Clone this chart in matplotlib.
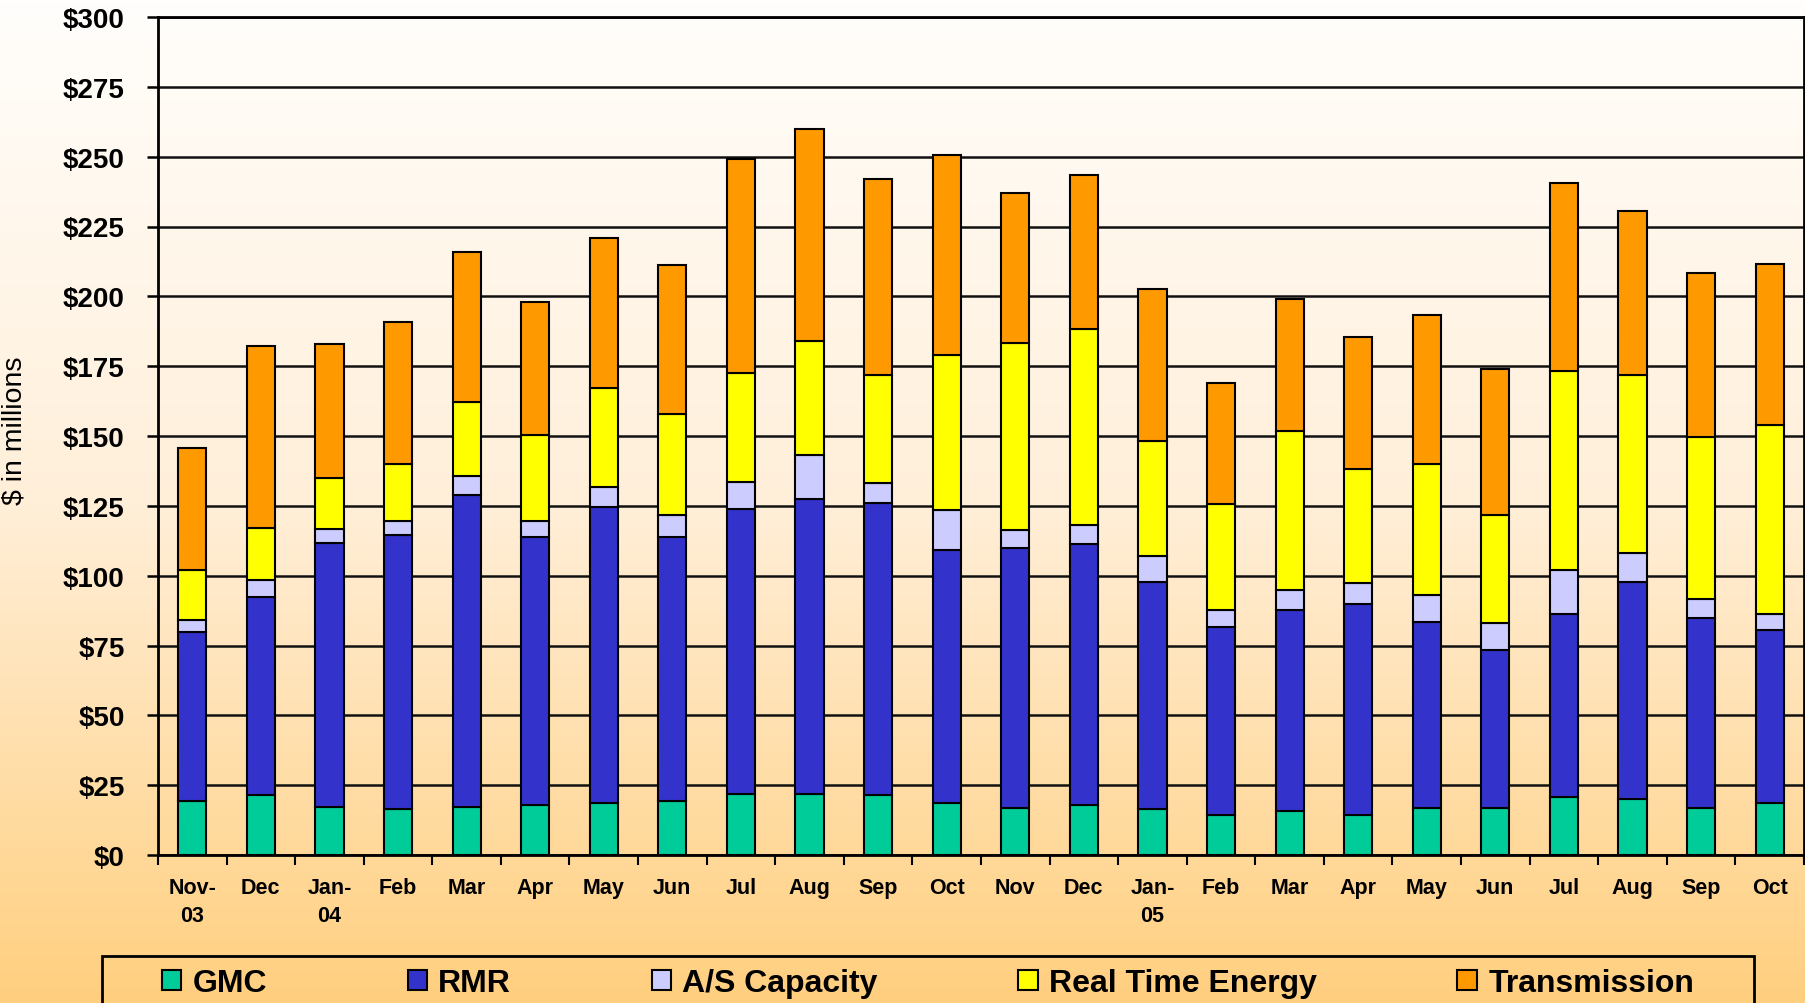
import numpy as np
import matplotlib.pyplot as plt
from matplotlib.patches import Patch, Rectangle
from matplotlib.colors import LinearSegmentedColormap

plt.rcParams['font.family'] = ['Liberation Sans', 'DejaVu Sans']

months = ["Nov-\n03", "Dec", "Jan-\n04", "Feb", "Mar", "Apr", "May", "Jun", "Jul", "Aug", "Sep", "Oct",
          "Nov", "Dec", "Jan-\n05", "Feb", "Mar", "Apr", "May", "Jun", "Jul", "Aug", "Sep", "Oct"]

# $ millions per month, by component
gmc = [19.2, 21.5, 17.2, 16.3, 17.2, 17.9, 18.6, 19.2, 22.0, 22.0, 21.5, 18.5,
       17.0, 17.9, 16.3, 14.3, 15.7, 14.3, 17.0, 17.0, 20.6, 20.0, 17.0, 18.5]
rmr = [60.7, 70.8, 94.5, 98.2, 111.7, 95.9, 105.9, 94.6, 102.0, 105.6, 104.6, 90.7,
       92.9, 93.4, 81.4, 67.2, 72.1, 75.7, 66.4, 56.4, 65.7, 77.7, 67.9, 62.1]
as_capacity = [4.2, 6.3, 5.0, 5.0, 6.7, 5.8, 7.3, 7.9, 9.4, 15.7, 7.2, 14.4,
               6.5, 6.7, 9.5, 6.3, 7.2, 7.4, 9.6, 9.6, 15.7, 10.3, 6.6, 5.7]
rt_energy = [17.9, 18.6, 18.1, 20.5, 26.5, 30.9, 35.3, 36.1, 39.2, 40.8, 38.7, 55.5,
             67.0, 70.3, 41.0, 38.0, 56.9, 40.9, 46.8, 38.6, 71.3, 64.0, 58.2, 67.7]
transmission = [43.6, 65.0, 48.1, 50.8, 53.7, 47.4, 53.7, 53.5, 76.6, 75.9, 70.1, 71.6,
                53.6, 55.3, 54.5, 43.3, 47.3, 47.3, 53.6, 52.5, 67.4, 58.6, 58.8, 57.4]

series = [("GMC", gmc, "#00CC99"),
          ("RMR", rmr, "#3333CC"),
          ("A/S Capacity", as_capacity, "#CCCCFF"),
          ("Real Time Energy", rt_energy, "#FFFF00"),
          ("Transmission", transmission, "#FF9900")]

fig = plt.figure(figsize=(18.06, 10.04), dpi=100)

# vertical background fade, white at top to light orange at bottom
bg = fig.add_axes([0, 0, 1, 1], zorder=-10)
fade = LinearSegmentedColormap.from_list("fade", ["#FFFEFC", "#FFEFD9", "#FFCF7F"])
bg.imshow(np.linspace(0, 1, 256).reshape(-1, 1), cmap=fade, aspect="auto",
          extent=[0, 1, 0, 1])
bg.axis("off")

ax = fig.add_axes([158 / 1806, 1 - 856 / 1004, 1646 / 1806, 838 / 1004])
ax.patch.set_alpha(0)

x = np.arange(len(months))
bottom = np.zeros(len(months))
for name, vals, color in series:
    vals = np.array(vals)
    ax.bar(x, vals, width=0.41, bottom=bottom, color=color, edgecolor="black",
           linewidth=1.5, zorder=3)
    bottom += vals

ax.set_xlim(-0.5, len(months) - 0.5)
ax.set_ylim(0, 300)
ax.set_yticks(np.arange(0, 301, 25))
ax.set_yticklabels(["$%d" % v for v in range(0, 301, 25)], fontsize=20, fontweight="bold")
ax.yaxis.grid(True, color="#111111", linewidth=1.8, zorder=1)
ax.set_axisbelow(True)

ax.set_xticks(x)
ax.set_xticklabels(months, fontsize=15.5, fontweight="bold", linespacing=1.4, va="top")
ax.set_xticks(np.arange(-0.5, len(months), 1), minor=True)
ax.tick_params(axis="x", which="major", length=0, pad=16)
ax.tick_params(axis="x", which="minor", length=7, width=1.5, direction="out")
ax.tick_params(axis="y", length=8, width=1.8, direction="out", pad=16)

for sp in ax.spines.values():
    sp.set_linewidth(2)

ax.set_ylabel("$ in millions", fontsize=20.5)
ax.yaxis.set_label_coords(-0.079, 0.507)

handles = [Patch(facecolor=c, edgecolor="black", linewidth=1.5) for _, _, c in series]
labels = [n for n, _, _ in series]
fig.legend(handles, labels, loc="center", bbox_to_anchor=(928 / 1806, 1 - 984 / 1004),
           ncol=5, frameon=False, prop={"size": 23, "weight": "bold"},
           handlelength=0.6, handleheight=0.6, handletextpad=0.36, columnspacing=4.4)
fig.patches.append(Rectangle((102 / 1806, -0.02), (1754 - 102) / 1806, 0.02 + 1 - 957 / 1004,
                             transform=fig.transFigure, fill=False, edgecolor="black",
                             linewidth=2))

fig.savefig("out.png", dpi=100)
